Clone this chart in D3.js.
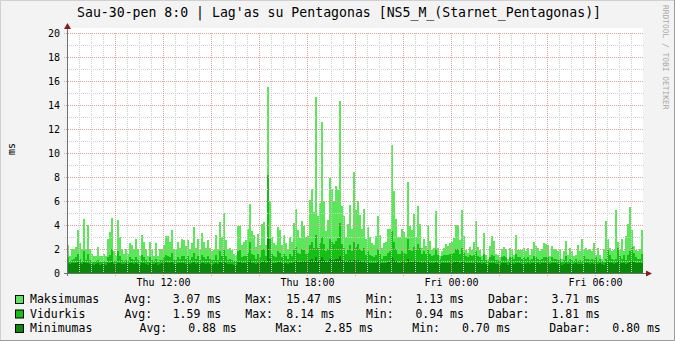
<!DOCTYPE html>
<html>
<head>
<meta charset="utf-8">
<script src="https://cdn.jsdelivr.net/npm/d3@7"></script>
<style>
  html, body { margin: 0; padding: 0; background: #f3f3f3; }
  svg { display: block; }
  text { font-family: "DejaVu Sans Mono", monospace; }
</style>
</head>
<body>
<svg id="chart"></svg>
<script>
// 5 minute samples, Thu 08:00 .. Fri 08:00
const maxVals = [
  2.3,1.4,2.0,2.0,2.2,3.6,2.5,2.0,4.5,2.0,4.0,2.0,1.6,1.4,1.4,2.2,1.4,1.4,1.6,1.4,2.8,3.4,4.6,1.8,1.4,4.4,3.0,2.0,1.6,2.0,1.6,2.5,2.3,2.0,2.8,2.0,1.4,3.2,2.6,2.0,1.4,2.6,2.0,1.4,2.5,1.4,2.0,2.0,2.3,3.1,3.1,2.6,3.6,2.0,2.0,2.6,2.1,2.8,
  2.75,2.25,2.75,2.0,2.5,3.8,2.1,2.8,2.0,3.3,2.6,2.1,2.75,2.1,1.8,1.9,3.2,2.0,4.25,3.0,5.0,2.75,2.0,2.1,1.9,1.6,1.5,3.9,3.9,2.3,2.6,2.75,3.7,5.75,3.5,3.2,2.15,3.25,2.3,4.1,4.25,2.3,15.47,6.0,3.0,2.5,2.3,3.8,3.6,2.3,3.2,2.5,2.0,3.0,2.6,4.2,5.3,3.6,
  2.9,4.3,3.9,3.0,3.1,6.1,7.0,5.1,14.7,4.75,5.8,12.6,6.0,3.5,4.4,7.9,7.0,6.0,7.25,6.9,14.3,5.6,4.75,3.0,4.1,5.7,3.7,8.4,5.25,6.0,4.8,3.7,5.3,2.8,3.8,3.0,2.5,2.3,3.1,4.75,3.2,2.05,2.5,2.6,3.7,3.7,10.7,6.8,4.5,3.0,3.0,3.7,3.4,3.0,7.55,3.9,3.6,4.9,
  3.0,5.6,4.1,2.05,2.8,2.25,3.9,2.7,1.9,2.05,5.2,2.1,1.4,1.8,2.05,2.4,2.25,2.5,2.6,2.9,4.0,4.0,2.75,5.25,3.1,1.9,1.7,2.2,1.9,2.6,4.3,2.2,1.9,1.4,3.35,1.5,1.2,2.25,3.1,2.7,1.6,1.5,1.3,2.0,2.2,2.0,1.2,2.05,1.9,1.5,3.2,1.9,1.9,1.9,2.1,1.8,2.05,1.5,
  2.0,2.6,2.25,2.1,1.8,2.0,2.5,2.4,2.35,1.4,2.25,2.0,2.0,1.8,2.0,1.2,1.8,2.7,1.5,2.05,1.85,1.4,1.5,2.3,1.8,2.8,2.0,2.05,1.9,2.0,1.8,2.5,1.5,2.1,1.5,1.2,2.0,4.3,2.8,2.05,1.8,1.9,5.25,2.6,1.9,2.85,1.8,3.1,4.1,5.5,3.6,2.25,1.9,1.85,2.0,3.6
];
const avgVals = [
  1.3,1.0,1.1,1.2,1.3,1.6,1.2,1.0,1.8,1.1,1.6,1.1,0.9,0.9,1.0,1.1,0.9,0.9,1.0,0.9,1.3,1.5,2.0,1.0,1.0,1.8,1.4,1.1,1.0,1.1,1.0,1.3,1.2,1.1,1.3,1.1,0.9,1.5,1.3,1.1,0.9,1.3,1.1,1.0,1.2,0.9,1.1,1.1,1.3,1.5,1.4,1.3,1.7,1.1,1.1,1.3,1.2,1.4,
  1.4,1.2,1.4,1.1,1.3,1.7,1.2,1.4,1.1,1.5,1.3,1.2,1.4,1.2,1.1,1.1,1.5,1.1,1.8,1.4,2.0,1.4,1.1,1.2,1.1,1.0,1.0,1.8,1.9,1.3,1.4,1.4,1.7,2.6,1.6,1.5,1.2,1.6,1.3,1.9,2.0,1.4,8.14,2.8,1.6,1.4,1.3,1.8,1.7,1.3,1.6,1.4,1.2,1.6,1.4,1.9,2.2,1.7,
  1.6,2.0,1.9,1.6,1.7,2.3,2.6,2.1,3.2,2.1,2.5,3.0,2.4,1.8,2.0,2.8,2.6,2.4,2.7,2.9,4.2,2.4,2.1,1.6,1.9,2.3,1.8,2.6,2.2,2.4,2.0,1.8,2.1,1.5,1.8,1.5,1.4,1.3,1.5,2.0,1.6,1.2,1.4,1.4,1.7,1.8,3.5,2.6,2.0,1.6,1.6,1.8,1.7,1.6,2.8,1.9,1.8,2.2,
  2.0,2.4,2.1,1.6,1.8,1.6,1.9,1.6,1.4,1.5,2.0,1.5,1.2,1.4,1.5,1.5,1.5,1.6,1.6,1.7,2.0,2.0,1.6,2.1,1.7,1.4,1.3,1.5,1.4,1.5,1.8,1.4,1.3,1.1,1.6,1.1,1.0,1.3,1.5,1.4,1.1,1.1,1.0,1.3,1.4,1.3,1.0,1.3,1.3,1.2,1.6,1.3,1.3,1.2,1.3,1.2,1.3,1.1,
  1.2,1.4,1.3,1.2,1.1,1.2,1.3,1.3,1.3,1.0,1.3,1.2,1.2,1.1,1.2,0.9,1.1,1.4,1.0,1.2,1.1,1.0,1.2,1.0,1.1,1.0,1.4,1.2,1.2,1.1,1.2,1.1,1.3,1.0,1.2,1.0,0.9,1.2,2.0,1.5,1.2,1.1,1.2,2.1,1.4,1.2,1.5,1.1,1.5,1.8,2.2,1.7,1.3,1.2,1.2,1.6
];
const minVals = [
  0.8,0.75,0.8,0.85,0.8,0.9,0.8,0.75,0.95,0.8,0.85,0.75,0.75,0.7,0.75,0.8,0.7,0.75,0.75,0.7,0.8,0.85,0.9,0.75,0.75,0.85,0.8,0.75,0.75,0.8,0.75,0.8,0.8,0.75,0.8,0.75,0.7,0.85,0.8,0.75,0.7,0.8,0.75,0.75,0.8,0.7,0.75,0.8,0.85,0.9,0.85,0.8,0.9,0.75,0.75,0.8,0.8,0.85,
  0.8,0.75,0.8,0.75,0.8,0.9,0.75,0.8,0.75,0.85,0.8,0.75,0.8,0.75,0.7,0.75,0.85,0.75,0.9,0.8,0.95,0.8,0.75,0.75,0.75,0.7,0.7,0.9,0.95,0.8,0.8,0.8,0.9,1.1,0.85,0.85,0.75,0.85,0.8,0.95,1.0,0.8,2.85,1.2,0.85,0.8,0.8,0.9,0.9,0.8,0.85,0.8,0.75,0.85,0.8,0.95,1.0,0.9,
  0.9,1.0,1.0,0.9,0.9,1.1,1.2,1.0,1.3,1.0,1.1,1.3,1.1,0.9,1.0,1.2,1.1,1.1,1.2,1.2,1.4,1.1,1.0,0.9,1.0,1.1,0.9,1.1,1.0,1.1,1.0,0.9,1.0,0.85,0.9,0.85,0.8,0.8,0.85,1.0,0.85,0.8,0.8,0.85,0.9,0.9,1.3,1.1,1.0,0.85,0.85,0.9,0.9,0.85,1.2,0.95,0.9,1.0,
  0.9,1.0,0.95,0.85,0.9,0.85,0.9,0.85,0.8,0.85,0.95,0.85,0.75,0.8,0.8,0.8,0.85,0.85,0.85,0.9,0.95,0.95,0.85,0.95,0.9,0.8,0.8,0.85,0.8,0.85,0.9,0.8,0.8,0.75,0.85,0.75,0.7,0.8,0.85,0.8,0.75,0.75,0.7,0.8,0.8,0.8,0.7,0.8,0.8,0.75,0.85,0.8,0.8,0.75,0.8,0.75,0.8,0.75,
  0.8,0.85,0.8,0.8,0.75,0.8,0.8,0.8,0.8,0.75,0.8,0.8,0.8,0.75,0.8,0.7,0.75,0.85,0.75,0.8,0.75,0.75,0.8,0.75,0.75,0.75,0.85,0.8,0.8,0.75,0.8,0.75,0.8,0.75,0.8,0.75,0.7,0.8,0.95,0.85,0.8,0.75,0.8,1.0,0.85,0.8,0.85,0.75,0.85,0.9,1.0,0.9,0.8,0.8,0.8,0.85
];

const yTicks = [0, 2, 4, 6, 8, 10, 12, 14, 16, 18, 20];
const seriesNames = ["Maksimumas", "Vidurkis", "Minimumas"];
const seriesColors = ["#5ae85a", "#14c014", "#0a880a"];
const statAvg = ["3.07 ms", "1.59 ms", "0.88 ms"];
const statMax = ["15.47 ms", "8.14 ms", "2.85 ms"];
const statMin = ["1.13 ms", "0.94 ms", "0.70 ms"];
const statLast = ["3.71 ms", "1.81 ms", "0.80 ms"];

const W = 675, H = 341;
const plot = { left: 67, right: 643, top: 33, bottom: 273 };
const start = new Date(2020, 0, 30, 8, 0);
const end = new Date(2020, 0, 31, 8, 0);
const step = 5 * 60 * 1000;

const svg = d3.select("#chart").attr("width", W).attr("height", H);

// background + frame
svg.append("rect").attr("width", W).attr("height", H).attr("fill", "#f3f3f3");
svg.append("path").attr("d", `M0.5,${H} V0.5 H${W}`).attr("stroke", "#d0d0d0").attr("fill", "none");
svg.append("path").attr("d", `M0,${H - 0.5} H${W - 0.5} V0`).attr("stroke", "#9c9c9c").attr("fill", "none");

const x = d3.scaleTime().domain([start, end]).range([plot.left, plot.right]);
const y = d3.scaleLinear().domain([0, 20]).range([plot.bottom, plot.top]);

svg.append("rect")
  .attr("x", plot.left).attr("y", plot.top - 5)
  .attr("width", plot.right - plot.left).attr("height", plot.bottom - plot.top + 5)
  .attr("fill", "#ffffff");

svg.append("clipPath").attr("id", "clip").append("rect")
  .attr("x", plot.left).attr("y", 0)
  .attr("width", plot.right - plot.left).attr("height", plot.bottom);

// data areas (drawn as bars, one per 5 minute step)
const g = svg.append("g").attr("clip-path", "url(#clip)");
[maxVals, avgVals, minVals].forEach((vals, k) => {
  g.append("g").selectAll("rect")
    .data(vals)
    .join("rect")
    .attr("x", (d, i) => x(new Date(+start + i * step)))
    .attr("width", (d, i) => x(new Date(+start + (i + 1) * step)) - x(new Date(+start + i * step)))
    .attr("y", d => y(d))
    .attr("height", d => y(0) - y(d))
    .attr("fill", seriesColors[k])
    .attr("shape-rendering", "crispEdges");
});

// grid
const grid = svg.append("g").attr("shape-rendering", "crispEdges");
const minorX = d3.timeMinute.every(30).range(start, end).filter(t => t.getMinutes() === 30 || t.getHours() % 2 === 1);
const majorX = d3.timeHour.every(2).range(new Date(+start + 1), end);
d3.range(1, 20).filter(v => v % 2 === 1).forEach(v => {
  grid.append("line").attr("x1", plot.left - 2).attr("x2", plot.right + 1)
    .attr("y1", y(v) + 0.5).attr("y2", y(v) + 0.5)
    .attr("stroke", "#cfcfcf").attr("stroke-dasharray", "1,1");
});
minorX.forEach(t => {
  grid.append("line").attr("x1", x(t) + 0.5).attr("x2", x(t) + 0.5)
    .attr("y1", plot.top).attr("y2", plot.bottom + 2)
    .attr("stroke", "#cfcfcf").attr("stroke-dasharray", "1,1");
});
yTicks.filter(v => v > 0).forEach(v => {
  grid.append("line").attr("x1", plot.left - 3).attr("x2", plot.right + 1)
    .attr("y1", y(v) + 0.5).attr("y2", y(v) + 0.5)
    .attr("stroke", "#e0a0a0").attr("stroke-dasharray", "1,1");
});
majorX.forEach(t => {
  grid.append("line").attr("x1", x(t) + 0.5).attr("x2", x(t) + 0.5)
    .attr("y1", plot.top).attr("y2", plot.bottom + 3)
    .attr("stroke", "#e0a0a0").attr("stroke-dasharray", "1,1");
});

// axes labels
const yAxis = svg.append("g")
  .attr("transform", `translate(${plot.left},0)`)
  .call(d3.axisLeft(y).tickValues(yTicks).tickSize(0).tickPadding(7).tickFormat(d3.format("d")));
yAxis.select(".domain").remove();
yAxis.selectAll("text").attr("font-family", "DejaVu Sans Mono").attr("font-size", 10).attr("fill", "#000");

const labelTicks = [new Date(2020, 0, 30, 12), new Date(2020, 0, 30, 18), new Date(2020, 0, 31, 0), new Date(2020, 0, 31, 6)];
const xAxis = svg.append("g")
  .attr("transform", `translate(0,${plot.bottom})`)
  .call(d3.axisBottom(x).tickValues(labelTicks).tickSize(0).tickPadding(6).tickFormat(d3.timeFormat("%a %H:%M")));
xAxis.select(".domain").remove();
xAxis.selectAll("text").attr("font-family", "DejaVu Sans Mono").attr("font-size", 10).attr("fill", "#000");

// axis lines with arrows
svg.append("line").attr("x1", plot.left - 3).attr("x2", plot.right + 4)
  .attr("y1", plot.bottom + 0.5).attr("y2", plot.bottom + 0.5).attr("stroke", "#707070");
svg.append("line").attr("x1", plot.left + 0.5).attr("x2", plot.left + 0.5)
  .attr("y1", plot.top - 5).attr("y2", plot.bottom + 3).attr("stroke", "#707070");
svg.append("path")
  .attr("d", `M${plot.right + 3},${plot.bottom - 2.5} L${plot.right + 9},${plot.bottom + 0.5} L${plot.right + 3},${plot.bottom + 3.5} Z`)
  .attr("fill", "#8b1a1a");
svg.append("path")
  .attr("d", `M${plot.left - 3},${plot.top - 4} L${plot.left + 0.5},${plot.top - 10} L${plot.left + 4},${plot.top - 4} Z`)
  .attr("fill", "#8b1a1a");

// title
svg.append("text")
  .attr("x", 77).attr("y", 17)
  .attr("font-size", 13.2)
  .attr("xml:space", "preserve")
  .text("Sau-30-pen 8:0 | Lag'as su Pentagonas [NS5_M_(Starnet_Pentagonas)]");

// y unit label
svg.append("text")
  .attr("transform", "translate(15,149) rotate(-90)")
  .attr("text-anchor", "middle")
  .attr("font-size", 10)
  .text("ms");

// watermark
svg.append("text")
  .attr("transform", "translate(663,5) rotate(90)")
  .attr("font-size", 7.9)
  .attr("fill", "#a8a8a8")
  .text("RRDTOOL / TOBI OETIKER");

// legend
const rowY = [303, 317.5, 332];
const colsA = [124.4, 172.7, 245.3, 286.3, 366, 415.4, 488, 551.4];
const colsB = [139.5, 188.3, 275.5, 324.7, 412.3, 462, 549.2, 612.3];
const leg = svg.append("g").attr("font-size", 11.5).attr("fill", "#000");
seriesNames.forEach((name, i) => {
  const c = i < 2 ? colsA : colsB;
  leg.append("rect").attr("x", 15.5).attr("y", rowY[i] - 7.5).attr("width", 8).attr("height", 8)
    .attr("fill", seriesColors[i]).attr("stroke", "#000");
  leg.append("text").attr("x", 30).attr("y", rowY[i]).text(name);
  const parts = ["Avg:", statAvg[i], "Max:", statMax[i], "Min:", statMin[i], "Dabar:", statLast[i]];
  parts.forEach((p, j) => {
    leg.append("text").attr("x", c[j]).attr("y", rowY[i]).text(p);
  });
});
</script>
</body>
</html>
